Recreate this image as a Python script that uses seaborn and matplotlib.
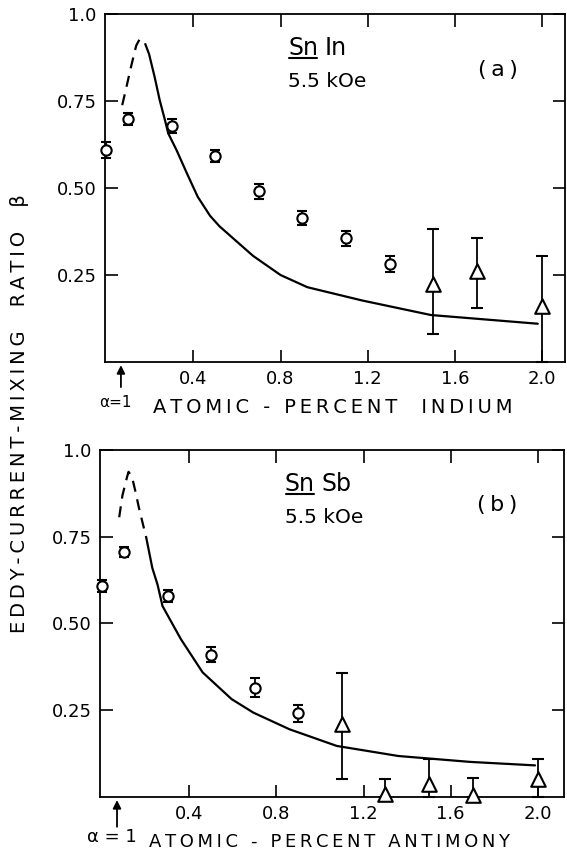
import matplotlib
matplotlib.use("Agg")
import matplotlib.pyplot as plt
import seaborn as sns

# panel (a): Sn In, 5.5 kOe
a_circ_x = [0.0, 0.1, 0.3, 0.5, 0.7, 0.9, 1.1, 1.3]
a_circ_y = [0.609, 0.698, 0.678, 0.592, 0.490, 0.413, 0.355, 0.281]
a_circ_err = [0.024, 0.018, 0.019, 0.018, 0.021, 0.020, 0.021, 0.023]
a_tri_x = [1.5, 1.7, 2.0]
a_tri_y = [0.224, 0.262, 0.160]
a_tri_lo = [0.081, 0.156, 0.0]
a_tri_hi = [0.382, 0.355, 0.305]
a_dash_x = [0.074, 0.095, 0.115, 0.138, 0.154, 0.177, 0.197]
a_dash_y = [0.738, 0.795, 0.850, 0.909, 0.928, 0.918, 0.885]
a_solid_x = [0.197, 0.223, 0.246, 0.27, 0.285, 0.323, 0.37, 0.42, 0.477, 0.52,
             0.674, 0.80, 0.923, 1.173, 1.49, 1.98]
a_solid_y = [0.885, 0.818, 0.752, 0.695, 0.657, 0.609, 0.543, 0.475, 0.420, 0.390,
             0.305, 0.250, 0.215, 0.177, 0.135, 0.110]

# panel (b): Sn Sb, 5.5 kOe
b_circ_x = [0.0, 0.1, 0.3, 0.5, 0.7, 0.9]
b_circ_y = [0.609, 0.706, 0.578, 0.410, 0.315, 0.241]
b_circ_err = [0.017, 0.015, 0.017, 0.022, 0.028, 0.024]
b_tri_x = [1.1, 1.3, 1.5, 1.7, 2.0]
b_tri_y = [0.210, 0.008, 0.037, 0.005, 0.053]
b_tri_lo = [0.051, 0.0, 0.0, 0.0, 0.0]
b_tri_hi = [0.356, 0.053, 0.110, 0.056, 0.110]
b_dash_x = [0.078, 0.093, 0.114, 0.121, 0.137, 0.153, 0.168, 0.187, 0.202]
b_dash_y = [0.806, 0.869, 0.922, 0.937, 0.922, 0.879, 0.835, 0.786, 0.748]
b_solid_x = [0.202, 0.23, 0.254, 0.277, 0.361, 0.461, 0.594, 0.694, 0.86,
             1.077, 1.36, 1.69, 1.987]
b_solid_y = [0.748, 0.66, 0.612, 0.55, 0.455, 0.359, 0.282, 0.243, 0.195,
             0.147, 0.118, 0.101, 0.091]

alpha1_x = 0.068
x_ticks = [0.4, 0.8, 1.2, 1.6, 2.0]
x_ticklabels = ["0.4", "0.8", "1.2", "1.6", "2.0"]
y_ticks = [0.25, 0.50, 0.75, 1.0]
y_ticklabels = ["0.25", "0.50", "0.75", "1.0"]

sns.set_style("ticks")
plt.rcParams["font.family"] = ["DejaVu Sans"]
plt.rcParams.update({
    "axes.linewidth": 1.3,
    "axes.edgecolor": "black",
    "axes.labelcolor": "black",
    "text.color": "black",
    "xtick.color": "black",
    "ytick.color": "black",
})

TS = "\u2009"


def spaced(s):
    return TS.join(s)


def draw_panel(ax, cx, cy, cerr, tx, ty, tlo, thi, dx, dy, sx, sy,
               alloy, tag, xlabel, xlabel_fs, xlim, alpha_txt, alpha_fs, tail):
    # theory curve: dashed near the peak, solid beyond
    sns.lineplot(x=dx, y=dy, ax=ax, color="black", linewidth=1.6,
                 sort=False, estimator=None)
    ax.lines[-1].set_dashes((5.0, 3.5))
    sns.lineplot(x=sx, y=sy, ax=ax, color="black", linewidth=1.6,
                 sort=False, estimator=None)

    eb = ax.errorbar(cx, cy, yerr=cerr, fmt="none", ecolor="black",
                     elinewidth=1.3, capsize=3.5, capthick=1.5, zorder=3)
    lo = [y - l for y, l in zip(ty, tlo)]
    hi = [h - y for y, h in zip(ty, thi)]
    eb2 = ax.errorbar(tx, ty, yerr=[lo, hi], fmt="none", ecolor="black",
                      elinewidth=1.3, capsize=4, capthick=1.5, zorder=3)
    for e in (eb, eb2):
        for art in list(e.lines[1]) + list(e.lines[2]):
            art.set_clip_on(False)

    sns.scatterplot(x=cx, y=cy, ax=ax, marker="o", s=55, color="white",
                    edgecolor="black", linewidth=1.5, zorder=4, clip_on=False)
    sns.scatterplot(x=tx, y=ty, ax=ax, marker="^", s=110, color="white",
                    edgecolor="black", linewidth=1.5, zorder=4, clip_on=False)

    ax.set_xlim(*xlim)
    ax.set_ylim(0, 1.0)
    ax.set_xticks(x_ticks)
    ax.set_xticklabels(x_ticklabels)
    ax.set_yticks(y_ticks)
    ax.set_yticklabels(y_ticklabels)
    ax.tick_params(direction="in", length=9, width=1.2, top=True, right=True,
                   labelsize=13, pad=6)
    for sp in ax.spines.values():
        sp.set_visible(True)

    ax.set_xlabel(spaced(xlabel), fontsize=xlabel_fs, va="center")
    ax.xaxis.set_label_coords(0.495, -0.13)
    ax.set_ylabel("")

    # composition / field annotation
    t = ax.text(0.398, 0.882, "Sn", transform=ax.transAxes, fontsize=17,
                va="baseline", ha="left")
    ax.annotate(alloy, xy=(1, 0), xycoords=t, xytext=(5, 0),
                textcoords="offset points", fontsize=17, va="bottom", ha="left")
    ax.text(0.398, 0.79, "5.5 kOe", transform=ax.transAxes, fontsize=14.5,
            va="baseline", ha="left")
    ax.text(0.855, 0.84, "(" + TS + tag + TS + ")", transform=ax.transAxes,
            fontsize=16, va="center", ha="center")

    fig.canvas.draw()
    bb = t.get_window_extent()
    inv = fig.transFigure.inverted()
    (x0, y0), (x1, _) = inv.transform([(bb.x0 + 1, bb.y0 + 2), (bb.x1 - 1, bb.y0 + 2)])
    fig.add_artist(plt.Line2D([x0, x1], [y0, y0], color="black", lw=1.5))

    # alpha = 1 marker below the axis
    xt = ax.get_xaxis_transform()
    ax.annotate("", xy=(alpha1_x, -0.009), xycoords=xt,
                xytext=(alpha1_x, tail), textcoords=xt,
                arrowprops=dict(arrowstyle="-|>", color="black", lw=1.3,
                                mutation_scale=12, shrinkA=0, shrinkB=0))
    ax.text(alpha1_x - 0.025, -0.115, alpha_txt, transform=xt,
            fontsize=alpha_fs, ha="center", va="center")


fig = plt.figure(figsize=(5.67, 8.52), dpi=100)
ax_a = fig.add_axes([0.1852, 0.5751, 0.8113, 0.4085])
ax_b = fig.add_axes([0.1764, 0.0646, 0.8183, 0.4073])

draw_panel(ax_a, a_circ_x, a_circ_y, a_circ_err, a_tri_x, a_tri_y, a_tri_lo,
           a_tri_hi, a_dash_x, a_dash_y, a_solid_x, a_solid_y,
           "In", "a", "ATOMIC - PERCENT  INDIUM", 14, (-0.005, 2.105),
           "α=1", 11, -0.072)
draw_panel(ax_b, b_circ_x, b_circ_y, b_circ_err, b_tri_x, b_tri_y, b_tri_lo,
           b_tri_hi, b_dash_x, b_dash_y, b_solid_x, b_solid_y,
           "Sb", "b", "ATOMIC - PERCENT ANTIMONY", 13, (-0.01, 2.12),
           "α = 1", 13, -0.086)

fig.text(0.035, 0.514, spaced("EDDY-CURRENT-MIXING  RATIO  β"), rotation=90,
         fontsize=14, ha="center", va="center")

fig.savefig("out.png", dpi=100)
plt.close(fig)
